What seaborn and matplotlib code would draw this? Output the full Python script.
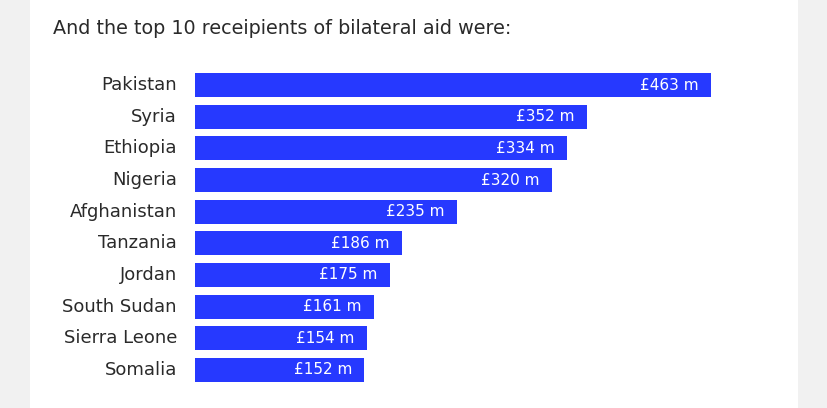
import matplotlib
matplotlib.use("Agg")
import matplotlib.pyplot as plt
import matplotlib.transforms as mtransforms
import seaborn as sns
import pandas as pd

countries = ["Pakistan", "Syria", "Ethiopia", "Nigeria", "Afghanistan",
             "Tanzania", "Jordan", "South Sudan", "Sierra Leone", "Somalia"]
values = [463, 352, 334, 320, 235, 186, 175, 161, 154, 152]
value_labels = ["£463 m", "£352 m", "£334 m", "£320 m", "£235 m",
                "£186 m", "£175 m", "£161 m", "£154 m", "£152 m"]
title = "And the top 10 receipients of bilateral aid were:"

df = pd.DataFrame({"country": countries, "value": values})

sns.set_theme(style="white")
plt.rcParams["font.family"] = ["DejaVu Sans"]

W, H = 828, 408
fig = plt.figure(figsize=(W / 100, H / 100), dpi=100)
fig.patch.set_facecolor("#f1f1f1")
# white panel
fig.add_artist(plt.Rectangle((30 / W, 0), (798 - 30) / W, 1, transform=fig.transFigure,
                             facecolor="white", edgecolor="none", zorder=0))

ax = fig.add_axes([195 / W, 1 - 385.8 / H, (711 - 195) / W, (385.8 - 69.2) / H])
ax.set_facecolor("none")
sns.barplot(data=df, x="value", y="country", orient="h", color="#2639ff",
            saturation=1, width=0.75, linewidth=0, ax=ax)
ax.set_xlim(0, 463)
ax.set_ylim(9.5, -0.5)
for s in ax.spines.values():
    s.set_visible(False)
ax.set_xticks([])
ax.set_xlabel("")
ax.set_ylabel("")
ax.tick_params(axis="y", length=0, pad=13, labelsize=13, labelcolor="#2a2a2a")
offset = mtransforms.ScaledTranslation(0, 2 / 100, fig.dpi_scale_trans)
for lbl in ax.get_yticklabels():
    lbl.set_transform(lbl.get_transform() + offset)

for i, (v, lab) in enumerate(zip(values, value_labels)):
    ax.annotate(lab, xy=(v, i), xytext=(-9, 0), textcoords="offset points",
                ha="right", va="center", color="white", fontsize=11)

fig.text(53 / W, 1 - 28 / H, title, ha="left", va="center", fontsize=13.8, color="#2a2a2a")

fig.savefig("out.png", dpi=100)
